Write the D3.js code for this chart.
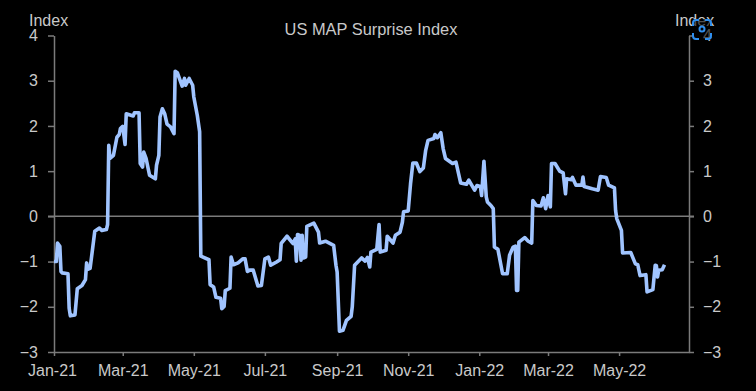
<!DOCTYPE html>
<html>
<head>
<meta charset="utf-8">
<title>US MAP Surprise Index</title>
<script src="https://cdn.jsdelivr.net/npm/d3@7"></script>
<style>
  html, body { margin: 0; padding: 0; background: #000; }
  svg { display: block; }
  text { font-family: "Liberation Sans", Arial, sans-serif; font-size: 16px; fill: #c9c9c9; }
</style>
</head>
<body>
<div class="chart"></div>
<script>
// values
const dates2021 = [
  "01-01","01-03","01-04","01-06","01-07","01-08","01-13","01-14","01-15","01-19","01-21","01-25","01-28","01-29","01-30",
  "02-01","02-05","02-09","02-11","02-15","02-16","02-17","02-18","02-21","02-24","02-26","02-27",
  "03-01","03-03","03-04","03-10","03-11","03-15","03-16","03-18","03-19","03-21","03-24","03-29","03-30",
  "04-01","04-02","04-04","04-06","04-08","04-11","04-14","04-15","04-17","04-21","04-23","04-24","04-27","04-30",
  "05-01","05-04","05-06","05-07","05-14","05-15","05-18","05-20","05-24","05-25","05-27","05-28",
  "06-01","06-02","06-04","06-08","06-12","06-14","06-16","06-18","06-21","06-25","06-28",
  "07-01","07-04","07-06","07-11","07-14","07-15","07-20","07-25","07-27","07-28","07-29","07-31",
  "08-01","08-02","08-03","08-05","08-06","08-12","08-16","08-17","08-22","08-29","08-31",
  "09-01","09-03","09-06","09-09","09-13","09-14","09-16","09-22","09-25","09-27","09-29","09-30",
  "10-05","10-07","10-08","10-13","10-14","10-19","10-21","10-25","10-27","10-28",
  "11-01","11-03","11-05","11-08","11-11","11-14","11-16","11-18","11-23","11-24","11-26","11-29",
  "12-01","12-03","12-09","12-12","12-16","12-21","12-23","12-28","12-30"
];
const values2021 = [
  -1.0,-1.0,-0.59,-0.66,-1.22,-1.25,-1.27,-2.03,-2.2,-2.18,-1.6,-1.53,-1.4,-1.03,-1.17,
  -1.15,-0.33,-0.26,-0.31,-0.29,-0.18,1.57,1.28,1.35,1.75,1.81,1.94,
  1.99,1.59,2.27,2.22,2.29,2.29,1.17,1.09,1.42,1.28,0.91,0.83,1.13,
  1.35,2.2,2.38,2.27,2.04,1.98,1.83,3.21,3.17,2.88,3.05,2.9,3.05,2.9,
  2.64,2.23,1.87,-0.88,-0.96,-1.51,-1.56,-1.79,-1.81,-2.04,-1.99,-1.64,
  -1.59,-0.9,-1.07,-1.03,-0.94,-0.94,-1.22,-1.19,-1.19,-1.54,-1.53,
  -0.94,-0.9,-1.08,-1.01,-0.96,-0.6,-0.44,-0.6,-0.5,-0.99,-0.4,-0.42,
  -0.97,-0.42,-0.92,-0.9,-0.22,-0.15,-0.35,-0.59,-0.55,-0.64,-1.08,
  -1.23,-2.54,-2.52,-2.3,-2.21,-2.0,-1.08,-0.92,-0.99,-0.91,-1.12,-0.79,
  -0.73,-0.18,-0.79,-0.75,-0.44,-0.59,-0.42,-0.35,-0.13,0.1,
  0.12,0.72,1.18,1.18,0.99,1.07,1.46,1.68,1.72,1.81,1.74,1.85,
  1.5,1.28,1.17,1.2,0.74,0.71,0.8,0.58,0.68
];
const dates2022 = [
  "01-02","01-03","01-05","01-07","01-08","01-11","01-13","01-14","01-17","01-21","01-25","01-27","01-30",
  "02-01","02-02","02-03","02-04","02-09","02-12","02-15","02-16","02-19","02-23","02-25","02-27",
  "03-01","03-03","03-04","03-07","03-11","03-14","03-16","03-17","03-21","03-22","03-25","03-30","03-31",
  "04-01","04-08","04-13","04-15","04-20","04-22","04-27","04-28","04-29",
  "05-03","05-04","05-11","05-15","05-17","05-19","05-24","05-25","05-30",
  "06-01","06-02","06-03","06-04","06-07","06-09"
];
const values2022 = [
  0.66,0.46,1.22,0.43,0.32,0.24,0.17,-0.68,-0.73,-1.27,-1.27,-0.86,-0.68,
  -0.66,-1.64,-1.64,-0.57,-0.47,-0.55,-0.59,0.35,0.24,0.23,0.41,0.17,
  0.46,0.21,1.17,1.17,1.0,0.96,0.5,0.83,0.81,0.86,0.69,0.69,0.87,
  0.66,0.61,0.58,0.88,0.86,0.69,0.63,0.13,-0.05,
  -0.31,-0.81,-0.8,-1.05,-1.07,-1.31,-1.29,-1.67,-1.62,
  -1.08,-1.09,-1.34,-1.19,-1.18,-1.07
];
const xTickDates = ["2021-01-01","2021-03-01","2021-05-01","2021-07-01","2021-09-01","2021-11-01","2022-01-01","2022-03-01","2022-05-01"];
const yTicks = [-3,-2,-1,0,1,2,3,4];

const parse = d3.timeParse("%Y-%m-%d");
const series = [
  ...dates2021.map((d, i) => ({ date: parse("2021-" + d), value: values2021[i] })),
  ...dates2022.map((d, i) => ({ date: parse("2022-" + d), value: values2022[i] }))
];

const width = 756;
const height = 391;
const plotLeft = 54, plotRight = 689, plotTop = 35.5, plotBottom = 352;
const axisColor = "#7b7b7b";

const svg = d3.select(".chart")
  .append("svg")
  .attr("width", width)
  .attr("height", height);

const x = d3.scaleTime()
  .domain([parse("2021-01-01"), parse("2022-06-30")])
  .range([plotLeft, plotRight]);

const y = d3.scaleLinear()
  .domain([-3, 4])
  .range([plotBottom, plotTop]);

// left axis
const gLeft = svg.append("g")
  .attr("transform", `translate(${plotLeft}, 0)`)
  .call(d3.axisLeft(y).tickValues(yTicks).tickFormat(d3.format("d")).tickSize(6).tickSizeOuter(0).tickPadding(10));

// right axis
const gRight = svg.append("g")
  .attr("transform", `translate(${plotRight}, 0)`)
  .call(d3.axisRight(y).tickValues(yTicks).tickFormat(d3.format("d")).tickSize(5).tickSizeOuter(0).tickPadding(9));

// bottom axis
const gBottom = svg.append("g")
  .attr("transform", `translate(0, ${plotBottom})`)
  .call(d3.axisBottom(x).tickValues(xTickDates.map(parse)).tickFormat(d3.timeFormat("%b-%y")).tickSize(4).tickSizeOuter(0).tickPadding(9));

[gLeft, gRight, gBottom].forEach(g => {
  g.selectAll("path, line").attr("stroke", axisColor).attr("stroke-width", 1.5);
  g.selectAll("text").attr("fill", null);
  g.attr("font-family", null).attr("font-size", null);
});

// first date label sits a bit left of its tick
gBottom.selectAll("text").filter((d, i) => i === 0).attr("dx", -2);

// zero line runs through both axes
svg.append("line")
  .attr("x1", plotLeft - 6)
  .attr("x2", plotRight + 5)
  .attr("y1", y(0))
  .attr("y2", y(0))
  .attr("stroke", axisColor)
  .attr("stroke-width", 1.5);

const line = d3.line()
  .x(d => x(d.date))
  .y(d => y(d.value));

svg.append("path")
  .datum(series)
  .attr("fill", "none")
  .attr("stroke", "#a0c4ff")
  .attr("stroke-width", 3.6)
  .attr("stroke-linejoin", "round")
  .attr("d", line);

// titles
svg.append("text").attr("x", 371).attr("y", 35).attr("text-anchor", "middle").style("font-size", "16.4px").text("US MAP Surprise Index");
svg.append("text").attr("x", 29).attr("y", 26).text("Index");
svg.append("text").attr("x", 675).attr("y", 26).text("Index");

// blue capture icon sitting over the top right corner, dims what is under it
svg.append("rect").attr("x", 692).attr("y", 19).attr("width", 20).attr("height", 21).attr("rx", 3).attr("fill", "#000").attr("fill-opacity", 0.6);
const icon = svg.append("g").attr("fill", "none").attr("stroke", "#2f8fef").attr("stroke-width", 2);
icon.append("path").attr("d", "M693 26v-3q0-3 3-3h3M705 20h3q3 0 3 3v3M711 33v3q0 3-3 3h-3M699 39h-3q-3 0-3-3v-3");
icon.append("circle").attr("cx", 702).attr("cy", 29).attr("r", 2.5);
</script>
</body>
</html>
